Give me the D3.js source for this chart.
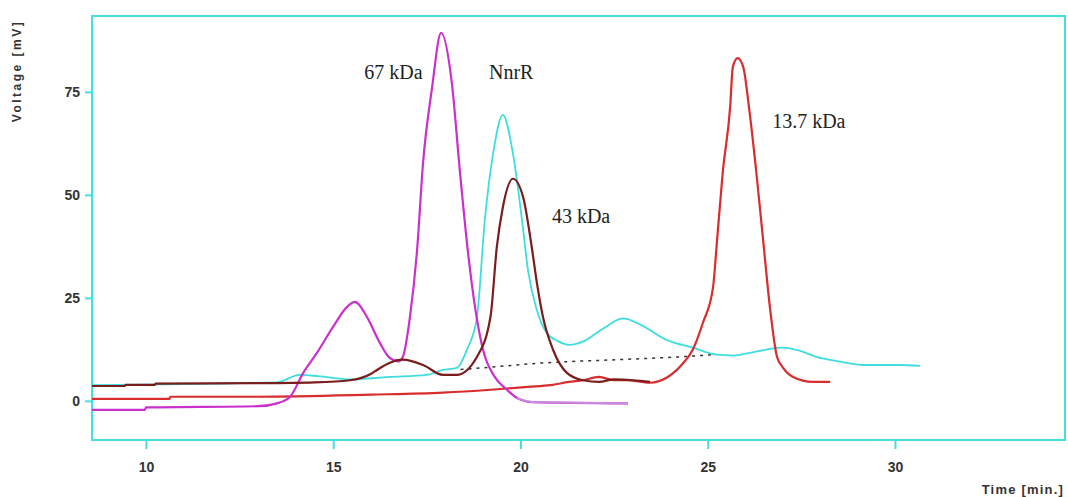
<!DOCTYPE html>
<html>
<head>
<meta charset="utf-8">
<script src="https://cdn.jsdelivr.net/npm/d3@7"></script>
<style>
  body { margin: 0; background: #fff; }
  svg { display: block; }
</style>
</head>
<body>
<svg id="chart" width="1068" height="497"></svg>
<script>
// axis ticks
var xTicks = [10, 15, 20, 25, 30];
var yTicks = [0, 25, 50, 75];

// 67 kDa (magenta)
var bsaTime = [8.56, 9.97, 10.0, 13.0, 13.5, 13.85, 14.2, 14.57, 15.0, 15.37, 15.58, 15.9, 16.25, 16.5, 16.75, 16.86, 17.05, 17.24, 17.4, 17.64, 17.88, 18.17, 18.38, 18.6, 18.8, 19.0, 19.3, 19.64, 19.91, 20.33, 22.87];
var bsaMv   = [-2.2, -2.2, -1.6, -1.3, -0.6, 1.0, 6.8, 11.7, 18.0, 22.8, 24.0, 20.4, 14.0, 10.5, 9.6, 10.7, 20.4, 36.6, 57.8, 76.0, 89.3, 77.0, 56.0, 36.0, 22.0, 12.4, 6.0, 2.7, 0.7, -0.3, -0.6];

// NnrR (cyan)
var nnrTime = [8.56, 13.5, 14.1, 14.6, 15.45, 16.5, 17.5, 17.93, 18.3, 18.57, 18.84, 19.05, 19.27, 19.53, 19.8, 20.04, 20.2, 20.44, 20.7, 21.0, 21.3, 21.7, 22.2, 22.74, 23.2, 23.9, 24.6, 25.25, 25.7, 26.1, 26.6, 27.0, 27.4, 27.9, 28.5, 29.15, 30.1, 30.67];
var nnrMv   = [3.8, 4.5, 6.3, 6.0, 5.2, 5.8, 6.3, 7.5, 8.0, 12.4, 20.4, 44.0, 60.0, 69.4, 60.0, 44.0, 31.8, 22.0, 16.5, 14.5, 13.6, 14.5, 17.5, 20.0, 18.5, 14.8, 12.9, 11.2, 11.0, 11.6, 12.5, 12.9, 12.3, 10.7, 9.6, 8.7, 8.7, 8.5];

// 43 kDa (dark red)
var ovaTime = [8.56, 9.44, 9.46, 10.24, 10.26, 13.0, 14.5, 15.45, 16.0, 16.17, 16.5, 16.86, 17.4, 17.93, 18.3, 18.84, 19.2, 19.37, 19.53, 19.8, 20.07, 20.3, 20.44, 20.6, 20.87, 21.24, 21.67, 22.1, 22.5, 23.0, 23.46];
var ovaMv   = [3.6, 3.6, 3.9, 3.9, 4.2, 4.3, 4.5, 5.0, 6.5, 7.5, 9.2, 10.0, 8.7, 6.3, 6.3, 10.7, 20.4, 37.4, 47.0, 53.9, 49.5, 37.4, 28.6, 20.4, 12.4, 6.8, 5.0, 4.6, 5.2, 5.0, 4.6];

// 13.7 kDa (red)
var rnaTime = [8.56, 10.63, 10.65, 13.0, 16.0, 17.93, 19.2, 20.2, 20.8, 21.3, 21.67, 22.1, 22.5, 22.84, 23.46, 23.9, 24.3, 24.6, 24.87, 25.14, 25.25, 25.4, 25.6, 25.67, 25.8, 25.95, 26.1, 26.3, 26.48, 26.66, 26.85, 27.0, 27.28, 27.8, 28.27];
var rnaMv   = [0.5, 0.5, 1.0, 1.0, 1.5, 2.0, 2.7, 3.4, 3.8, 4.6, 5.0, 5.8, 5.0, 5.0, 4.4, 5.6, 8.7, 12.4, 18.9, 27.4, 39.0, 55.3, 71.4, 81.0, 83.2, 81.0, 71.4, 55.3, 39.0, 22.8, 10.7, 8.2, 5.8, 4.6, 4.6];

// dotted baseline
var dotTime = [18.4, 19.37, 20.6, 21.24, 22.6, 24.3, 25.14];
var dotMv   = [7.6, 8.3, 9.2, 9.5, 10.0, 10.7, 11.2];

var labels = [
    { text: "67 kDa", t: 15.83, v: 78.2 },
    { text: "NnrR", t: 19.16, v: 78.2 },
    { text: "43 kDa", t: 20.84, v: 43.1 },
    { text: "13.7 kDa", t: 26.72, v: 66.2 }
];

var svg = d3.select("#chart"),
    width = +svg.attr("width"),
    height = +svg.attr("height");

var mLeft = 92, mRight = 1065, mTop = 16, mBottom = 440;
var frameColor = "#44dfe0";

var x = d3.scaleLinear().domain([8.56, 34.54]).range([mLeft, mRight]);
var y = d3.scaleLinear().domain([-9.5, 93.4]).range([mBottom, mTop]);

function zip(ts, vs) {
    return ts.map(function(t, i) { return [t, vs[i]]; });
}

var line = d3.line()
    .x(function(d) { return x(d[0]); })
    .y(function(d) { return y(d[1]); })
    .curve(d3.curveMonotoneX);

var plot = svg.append("g");

// frame
plot.append("rect")
    .attr("x", mLeft).attr("y", mTop)
    .attr("width", mRight - mLeft).attr("height", mBottom - mTop)
    .attr("fill", "none")
    .attr("stroke", frameColor)
    .attr("stroke-width", 2);

// axes
var xAxis = svg.append("g")
    .attr("transform", "translate(0," + mBottom + ")")
    .call(d3.axisBottom(x).tickValues(xTicks).tickSize(9).tickPadding(13));
var yAxis = svg.append("g")
    .attr("transform", "translate(" + mLeft + ",0)")
    .call(d3.axisLeft(y).tickValues(yTicks).tickSize(7).tickPadding(5));

[xAxis, yAxis].forEach(function(a) {
    a.select(".domain").remove();
    a.selectAll(".tick line").attr("stroke", frameColor).attr("stroke-width", 2);
    a.selectAll(".tick text")
        .attr("fill", "#333")
        .style("font-family", "'Liberation Sans', Arial, sans-serif")
        .style("font-weight", "bold")
        .style("font-size", "14px");
});

// curves
plot.append("path")
    .datum(zip(dotTime, dotMv))
    .attr("d", line)
    .attr("fill", "none")
    .attr("stroke", "#333")
    .attr("stroke-width", 1.5)
    .attr("stroke-dasharray", "3,5");

plot.append("path")
    .datum(zip(nnrTime, nnrMv))
    .attr("d", line)
    .attr("fill", "none")
    .attr("stroke", "#3fdede")
    .attr("stroke-width", 1.8);

plot.append("path")
    .datum(zip(rnaTime, rnaMv))
    .attr("d", line)
    .attr("fill", "none")
    .attr("stroke", "#d92c2c")
    .attr("stroke-width", 2.2);

plot.append("path")
    .datum(zip(bsaTime, bsaMv))
    .attr("d", line)
    .attr("fill", "none")
    .attr("stroke", "#cc30cc")
    .attr("stroke-width", 2.2);

// lighter tail of the magenta trace
plot.append("path")
    .datum(zip(bsaTime, bsaMv).filter(function(d) { return d[0] >= 19.91; }))
    .attr("d", line)
    .attr("fill", "none")
    .attr("stroke", "#c98be0")
    .attr("stroke-width", 2);

plot.append("path")
    .datum(zip(ovaTime, ovaMv))
    .attr("d", line)
    .attr("fill", "none")
    .attr("stroke", "#7a1d1d")
    .attr("stroke-width", 2.2);

// peak labels
svg.selectAll(".peak")
    .data(labels)
    .enter().append("text")
    .attr("class", "peak")
    .attr("x", function(d) { return x(d.t); })
    .attr("y", function(d) { return y(d.v); })
    .attr("fill", "#222")
    .style("font-family", "'Liberation Serif', 'Times New Roman', serif")
    .style("font-size", "20px")
    .text(function(d) { return d.text; });

// axis titles
svg.append("text")
    .attr("transform", "translate(21,71) rotate(-90)")
    .attr("text-anchor", "middle")
    .attr("fill", "#333")
    .style("font-family", "'Liberation Sans', Arial, sans-serif")
    .style("font-weight", "bold")
    .style("font-size", "12px")
    .style("letter-spacing", "2.5px")
    .text("Voltage [mV]");

svg.append("text")
    .attr("x", 1064)
    .attr("y", 494)
    .attr("text-anchor", "end")
    .attr("fill", "#333")
    .style("font-family", "'Liberation Sans', Arial, sans-serif")
    .style("font-weight", "bold")
    .style("font-size", "13px")
    .style("letter-spacing", "1.2px")
    .text("Time [min.]");
</script>
</body>
</html>
